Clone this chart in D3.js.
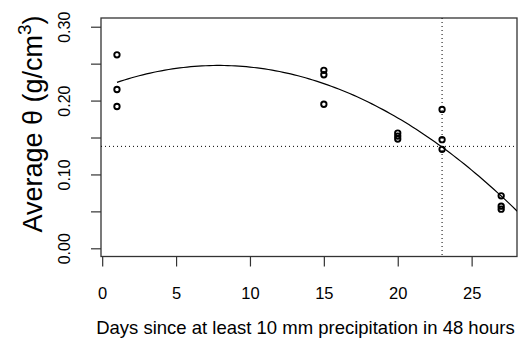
<!DOCTYPE html>
<html>
<head>
<meta charset="utf-8">
<script src="https://cdn.jsdelivr.net/npm/d3@7"></script>
<style>
  html, body { margin: 0; padding: 0; background: #fff; }
  svg { display: block; font-family: "Liberation Sans", Arial, Helvetica, sans-serif; }
</style>
</head>
<body>
<div id="viz"></div>
<script>
// observations: days since rain vs average theta
const days  = [1, 1, 1, 15, 15, 15, 20, 20, 20, 23, 23, 23, 27, 27, 27];
const theta = [0.262, 0.215, 0.192, 0.241, 0.235, 0.195, 0.156, 0.152, 0.148,
               0.188, 0.147, 0.134, 0.071, 0.057, 0.053];

// quadratic fit: c0 + c1*x + c2*x^2
const fitCoef = [0.2176, 0.007606, -0.000483];
const fitFrom = 1;

// dotted reference lines
const refDay = 23;
const refTheta = 0.138;

const xTicks = [0, 5, 10, 15, 20, 25];
const yTicks = [0, 0.05, 0.10, 0.15, 0.20, 0.25, 0.30];
const yLabelled = [0, 0.10, 0.20, 0.30];

const W = 531, H = 343;
const plot = { left: 101, right: 517, top: 18, bottom: 256.5 };

const svg = d3.select('#viz').append('svg')
  .attr('width', W)
  .attr('height', H);

const x = d3.scaleLinear().domain([-0.08, 28.07]).range([plot.left, plot.right]);
const y = d3.scaleLinear().domain([-0.0111, 0.3118]).range([plot.bottom, plot.top]);

svg.append('clipPath').attr('id', 'clip')
  .append('rect')
  .attr('x', plot.left).attr('y', plot.top)
  .attr('width', plot.right - plot.left)
  .attr('height', plot.bottom - plot.top);

// x axis
const gx = svg.append('g')
  .attr('transform', `translate(0,${plot.bottom})`)
  .call(d3.axisBottom(x).tickValues(xTicks).tickSize(10).tickPadding(21).tickFormat(d3.format('d')));
gx.select('.domain').remove();
gx.selectAll('line').attr('stroke', '#333').attr('stroke-width', 1.2);
gx.selectAll('text').attr('font-size', 16.5).attr('fill', '#000').attr('font-family', null);

// y axis, labels rotated like R
const gy = svg.append('g')
  .attr('transform', `translate(${plot.left},0)`)
  .call(d3.axisLeft(y).tickValues(yTicks).tickSize(10)
    .tickFormat(d => yLabelled.some(v => Math.abs(v - d) < 1e-9) ? d3.format('.2f')(d) : ''));
gy.select('.domain').remove();
gy.selectAll('line').attr('stroke', '#333').attr('stroke-width', 1.2);
gy.selectAll('text')
  .attr('font-size', 16).attr('fill', '#000').attr('font-family', null)
  .attr('transform', 'rotate(-90)')
  .attr('x', 0).attr('y', -31).attr('dy', null)
  .attr('text-anchor', 'middle');

// box
svg.append('rect')
  .attr('x', plot.left).attr('y', plot.top)
  .attr('width', plot.right - plot.left)
  .attr('height', plot.bottom - plot.top)
  .attr('fill', 'none')
  .attr('stroke', '#333')
  .attr('stroke-width', 1.3);

const inner = svg.append('g').attr('clip-path', 'url(#clip)');

// dotted reference lines
inner.append('line')
  .attr('x1', plot.left).attr('x2', plot.right)
  .attr('y1', y(refTheta)).attr('y2', y(refTheta))
  .attr('stroke', '#000').attr('stroke-width', 1).attr('stroke-dasharray', '1,3');
inner.append('line')
  .attr('x1', x(refDay)).attr('x2', x(refDay))
  .attr('y1', plot.top).attr('y2', plot.bottom)
  .attr('stroke', '#000').attr('stroke-width', 1).attr('stroke-dasharray', '1,3');

// fitted curve
const xs = d3.range(fitFrom, x.domain()[1] + 0.25, 0.25);
const fit = v => fitCoef[0] + fitCoef[1] * v + fitCoef[2] * v * v;
inner.append('path')
  .datum(xs)
  .attr('fill', 'none')
  .attr('stroke', '#000')
  .attr('stroke-width', 1.2)
  .attr('d', d3.line().x(d => x(d)).y(d => y(fit(d))));

// points
inner.selectAll('circle')
  .data(days.map((d, i) => [d, theta[i]]))
  .join('circle')
  .attr('cx', d => x(d[0]))
  .attr('cy', d => y(d[1]))
  .attr('r', 2.7)
  .attr('fill', 'none')
  .attr('stroke', '#000')
  .attr('stroke-width', 1.9);

// axis titles
svg.append('text')
  .attr('x', 305.4).attr('y', 334.3)
  .attr('text-anchor', 'middle')
  .attr('font-size', 18.5)
  .text('Days since at least 10 mm precipitation in 48 hours');

const yt = svg.append('text')
  .attr('transform', 'translate(42,124) rotate(-90)')
  .attr('text-anchor', 'middle')
  .attr('font-size', 27);
yt.append('tspan').text('Average θ (g/cm');
yt.append('tspan').attr('font-size', 19).attr('dy', -11).text('3');
yt.append('tspan').attr('dy', 11).text(')');
</script>
</body>
</html>
